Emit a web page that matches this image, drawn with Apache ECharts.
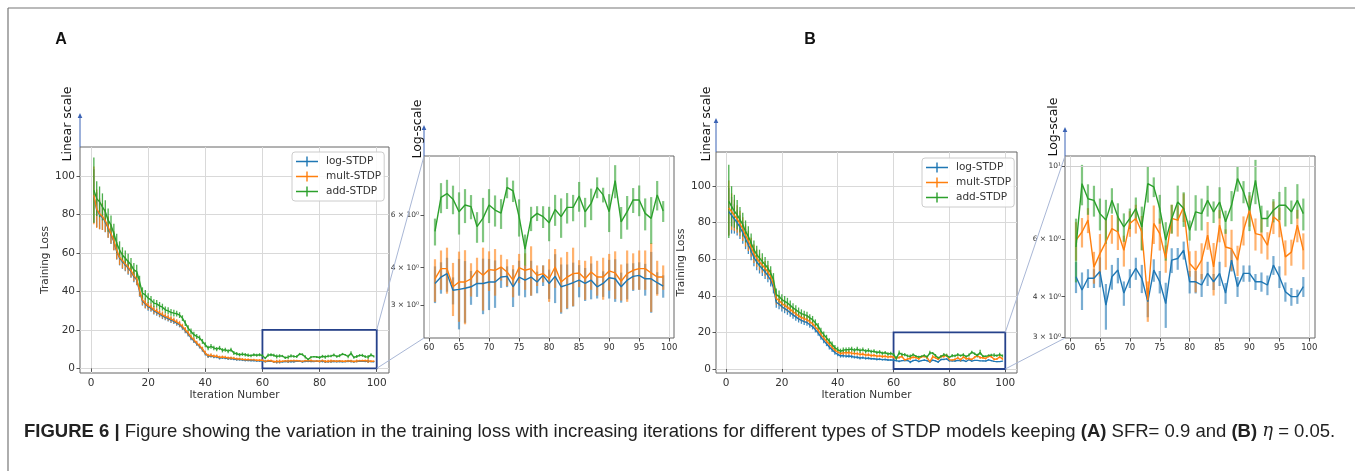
<!DOCTYPE html>
<html><head><meta charset="utf-8">
<script src="https://cdn.jsdelivr.net/npm/echarts@6/dist/echarts.min.js"></script>
<style>html,body{margin:0;padding:0;background:#fff}#c{width:1355px;height:471px}</style>
</head><body><div id="c"></div><script>
// ---------------- DATA ----------------
const iterations = [1,2,3,4,5,6,7,8,9,10,11,12,13,14,15,16,17,18,19,20,21,22,23,24,25,26,27,28,29,30,31,32,33,34,35,36,37,38,39,40,41,42,43,44,45,46,47,48,49,50,51,52,53,54,55,56,57,58,59,60,61,62,63,64,65,66,67,68,69,70,71,72,73,74,75,76,77,78,79,80,81,82,83,84,85,86,87,88,89,90,91,92,93,94,95,96,97,98,99];
const seriesNames = ['log-STDP','mult-STDP','add-STDP'];

// Panel A (SFR = 0.9)
const aLog = [89.5,82.4,79.8,78.4,76.2,72.8,69.4,65.9,60.7,57.3,55.5,53.8,52.1,50.3,47.7,46.0,40.0,35.0,33.4,32.0,31.3,29.9,29.1,28.2,27.3,26.5,25.9,25.1,24.4,23.5,22.7,21.3,19.6,17.9,15.8,14.4,12.8,11.4,9.8,7.7,6.3,6.5,6.0,6.0,5.4,5.6,5.4,5.1,5.1,4.9,4.6,4.6,4.4,4.2,4.2,4.1,4.1,3.9,3.9,3.9,
  3.54,3.72,3.82,3.36,3.38,3.41,3.45,3.54,3.54,3.58,3.58,3.72,3.74,3.45,3.72,3.63,3.72,3.58,3.77,3.54,3.74,3.45,3.5,3.56,3.63,3.54,3.63,3.45,3.54,3.7,3.67,3.45,3.63,3.74,3.77,3.67,3.67,3.56,3.47];
const aLogErr = [14,9,7.5,6.5,5.5,5,4.8,4.5,4.2,3.8,3.8,3.4,3.4,3.2,3,2.8,2.8,2.4,2.3,2,1.9,1.9,1.7,1.7,1.7,1.5,1.5,1.5,1.4,1.4,1.4,1.3,1.3,1.3,1.2,1.2,1.1,1.1,1.1,1.0,0.9,0.9,0.8,0.8,0.8,0.7,0.7,0.7,0.7,0.7,0.6,0.6,0.6,0.6,0.6,0.5,0.5,0.5,0.5,0.5,
  0.5,0.45,0.5,0.35,0.9,0.8,0.45,0.35,0.75,0.7,0.65,0.3,0.3,0.5,0.5,0.45,0.5,0.3,0.3,0.4,0.7,0.65,0.6,0.6,0.45,0.45,0.5,0.3,0.35,0.55,0.6,0.4,0.5,0.4,0.4,0.45,0.85,0.3,0.3];
const aMult = [89.9,82.9,80.3,78.9,76.8,73.4,69.9,66.4,61.2,57.8,56.0,54.3,52.6,50.8,48.2,46.5,40.5,35.5,33.9,32.5,31.8,30.4,29.6,28.7,27.8,27.0,26.4,25.6,24.9,24.0,23.2,21.8,20.1,18.4,16.3,14.9,13.2,11.8,10.1,8.0,6.6,6.8,6.3,6.3,5.7,5.9,5.7,5.4,5.4,5.2,4.9,4.9,4.7,4.5,4.5,4.4,4.4,4.2,4.2,4.2,
  3.67,3.97,3.97,3.45,3.58,3.58,3.67,3.92,3.77,3.94,3.92,4.02,3.87,3.63,4.0,3.92,3.97,3.77,3.82,3.67,4.02,3.58,3.72,3.82,3.84,3.67,3.87,3.72,3.72,3.9,3.84,3.6,3.82,3.92,3.97,3.97,3.84,3.72,3.72];
const aMultErr = [15,10,8,7,6,5.5,5,5,4.5,4,4,3.5,3.5,3.5,3,3,3,2.5,2.5,2,2,2,1.8,1.8,1.8,1.6,1.6,1.6,1.5,1.5,1.5,1.4,1.4,1.4,1.3,1.3,1.2,1.2,1.2,1.1,1.0,1.0,0.9,0.9,0.9,0.8,0.8,0.8,0.8,0.8,0.7,0.7,0.7,0.7,0.7,0.6,0.6,0.6,0.6,0.6,
  0.6,0.6,0.7,0.7,0.95,1.0,0.47,0.4,0.9,0.6,0.7,0.4,0.4,0.45,0.45,0.55,0.75,0.3,0.25,0.6,0.6,0.75,0.8,0.85,0.4,0.55,0.5,0.5,0.6,0.55,0.7,0.5,0.75,0.55,0.6,0.6,1.0,0.5,0.35];
const aAdd = [92.6,88.2,86.5,83.9,81.4,77.0,74.4,70.1,65.0,61.5,58.9,57.2,55.5,53.8,51.2,50.3,45.1,39.1,38.2,36.5,35.6,33.9,33.5,32.5,31.8,30.4,29.9,29.1,28.7,28.4,27.7,26.1,23.5,20.9,19.2,17.5,16.6,15.8,14.0,12.3,10.6,11.4,10.6,10.0,10.6,9.4,9.7,8.9,9.7,8.0,7.6,7.1,7.4,7.1,6.8,6.6,7.1,6.8,7.1,6.6,
  5.3,6.9,7.1,6.8,6.17,6.5,6.42,5.5,5.87,6.5,6.25,6.1,7.45,7.25,5.94,4.62,5.86,6.09,5.94,5.66,6.28,5.94,6.38,6.38,6.97,6.17,6.58,7.45,7.03,6.17,7.85,5.7,6.17,6.76,6.76,6.09,5.86,7.03,6.2];
const aAddErr = [17,9,8,7,6,6,5,5,5,4.5,4,4,4,3.5,3.5,3.5,3,3,2.5,2.5,2,2,2,2,1.8,1.8,1.8,1.8,1.8,1.5,1.5,1.5,1.5,1.5,1.5,1.5,1.3,1.3,1.3,1.3,1.2,1.2,1.2,1.1,1.1,1.1,1.0,1.0,1.0,1.0,0.9,0.9,0.9,0.9,0.9,0.8,0.8,0.8,0.8,0.8,
  0.55,0.8,0.8,0.75,1.0,0.85,0.6,0.65,1.0,0.85,0.75,0.7,0.6,0.6,0.85,0.55,0.55,0.35,0.5,0.75,0.75,0.9,0.75,0.65,0.8,0.7,0.8,0.6,0.4,0.9,1.0,0.7,0.8,0.65,0.8,0.75,1.05,0.8,0.5];

// Panel B (eta = 0.05)
const bLog = [86,84,82,80,77.5,74.5,71,68,64.5,61,58.5,56.5,54.8,53,51,48.5,44.5,36.5,35.5,34.0,33.0,32.0,30.8,29.6,28.5,27.4,26.6,25.9,25.4,24.2,23.2,21.5,19.7,17.4,15.5,13.8,12.0,10.5,9.0,8.0,7.2,7.3,7.0,7.1,6.8,6.5,6.4,6.0,6.2,5.8,5.9,5.6,5.6,5.3,5.4,5.1,5.2,4.9,5.0,4.8,
  4.6,4.19,4.55,4.55,4.77,3.77,4.6,4.82,4.1,4.55,4.88,4.55,3.86,4.82,4.44,3.81,5.17,5.23,5.54,4.44,4.44,4.34,4.71,4.44,4.71,4.1,5.17,4.29,4.71,4.71,4.44,4.44,4.34,4.99,4.6,4.14,4.0,4.0,4.29];
const bLogErr = [13,10,8,7,6.5,6,5.5,5.2,5,4.8,4.5,4.3,4,3.8,3.6,3.4,3.2,3,2.8,2.6,2.5,2.4,2.3,2.2,2.1,2,1.9,1.8,1.8,1.7,1.6,1.5,1.5,1.4,1.4,1.3,1.3,1.2,1.2,1.1,1.0,1.0,0.9,0.9,0.9,0.8,0.8,0.8,0.7,0.7,0.7,0.6,0.6,0.6,0.6,0.5,0.5,0.5,0.5,0.5,
  0.5,0.55,0.3,0.3,0.5,0.6,0.4,0.43,0.35,0.3,0.38,0.45,0.4,0.38,0.35,0.6,0.45,0.4,0.35,0.35,0.35,0.35,0.4,0.25,0.4,0.3,0.4,0.3,0.27,0.27,0.25,0.3,0.3,0.33,0.35,0.28,0.25,0.2,0.3];
const bMult = [88,86,84,82,79.5,76.5,73,70,66.5,63,60.5,58.5,56.8,55,53,50.5,46.5,38.5,37.5,35.8,34.8,33.8,32.6,31.3,30.2,29.0,28.2,27.5,27.0,25.8,24.8,23.0,21.2,18.8,16.9,15.2,13.5,11.9,10.3,9.3,8.5,8.8,8.9,9.0,8.7,8.5,8.4,8.0,8.2,7.6,7.8,7.3,7.5,7.0,7.2,6.8,7.0,6.5,6.8,6.4,
  5.95,6.3,6.85,4.93,5.41,5.88,6.45,6.3,5.54,6.69,6.93,6.3,3.9,6.69,6.23,5.23,6.93,6.85,7.51,5.05,4.82,5.17,6.16,4.93,6.61,5.67,5.6,5.17,6.38,7.34,6.23,6.16,5.74,7.01,6.77,5.29,5.47,6.61,5.54];
const bMultErr = [15,10,8.5,7.5,7,6.5,6,5.5,5.2,5,4.8,4.5,4.2,4,3.8,3.6,3.4,3.2,3,2.8,2.7,2.6,2.5,2.4,2.3,2.2,2.1,2,1.9,1.8,1.8,1.7,1.6,1.6,1.5,1.5,1.4,1.4,1.3,1.3,1.2,1.2,1.1,1.1,1.1,1.0,1.0,1.0,0.9,0.9,0.9,0.9,0.8,0.8,0.8,0.8,0.8,0.7,0.7,0.7,
  0.8,0.65,0.6,0.55,0.8,1.05,0.65,0.75,0.6,0.6,0.7,0.75,0.55,0.9,0.7,0.5,0.7,0.75,0.75,0.45,0.7,0.65,0.6,0.9,0.75,0.75,0.8,0.55,0.65,0.8,0.7,0.75,0.55,0.8,0.7,0.65,0.5,0.75,0.7];
const bAdd = [91.6,88.9,86.2,84.3,81.6,78.9,75.2,72.5,68.8,65.2,62.5,60.6,58.8,57.0,55.2,52.4,48.8,40.6,39.7,37.9,37.0,36.1,34.8,33.4,32.4,31.2,30.3,29.7,29.2,27.9,27.0,25.2,23.4,20.7,18.8,17.0,15.2,13.4,11.6,10.6,9.7,10.3,10.5,10.6,10.9,10.2,10.9,10.0,10.6,9.7,10.2,9.5,9.8,9.0,9.3,8.6,8.9,8.2,8.5,8.0,
  5.67,8.85,7.96,7.87,7.17,6.85,7.87,7.01,6.53,6.93,7.43,6.53,8.85,8.65,7.43,5.95,6.93,7.78,7.43,6.38,7.26,7.17,7.87,7.26,7.78,6.77,7.6,9.17,8.36,7.34,9.06,6.93,6.93,7.34,7.6,7.6,7.26,7.87,7.17];
const bAddErr = [20,11,9,8,7,6.5,6,5.5,5.3,5,4.8,4.6,4.4,4.2,4,3.8,3.6,3.4,3.2,3,2.9,2.8,2.7,2.6,2.5,2.4,2.3,2.2,2.1,2,2,1.9,1.8,1.8,1.7,1.7,1.6,1.6,1.5,1.5,1.4,1.4,1.3,1.3,1.3,1.2,1.2,1.2,1.1,1.1,1.1,1.0,1.0,1.0,1.0,0.9,0.9,0.9,0.9,0.9,
  1.25,1.25,0.85,0.85,0.8,1.05,0.7,0.7,0.65,0.5,0.6,1.0,1.1,0.6,0.75,0.8,0.7,0.95,0.9,0.45,0.9,0.8,0.85,0.55,0.85,0.55,0.8,0.8,0.65,1.0,1.4,0.65,0.4,0.6,0.75,1.05,0.6,0.95,0.8];

// ticks & ranges
const mainXTicks = [0,20,40,60,80,100];
const mainYTicks = [0,20,40,60,80,100];
const insetXTicks = [60,65,70,75,80,85,90,95,100];
const insetATicks = [3,4,6];
const insetBTicks = [3,4,6,10];
const insetMajor = [10];
const insetStart = 61;                 // first iteration shown in the zoomed insets
const zoomBox = {x0:60, x1:100, y0:0, y1:20};

// ---------------- STYLE / LAYOUT ----------------
const COL = {'log-STDP':'#1f77b4','mult-STDP':'#ff7f0e','add-STDP':'#2ca02c'};
const FONT = 'DejaVu Sans';
const G = [
  {left:80,  top:147, width:309, height:226},   // A main
  {left:424, top:156, width:250, height:182},   // A inset
  {left:716, top:152, width:301, height:221},   // B main
  {left:1065,top:156, width:250, height:182}    // B inset
];
const RANGES = [
  {x:[-3.85,104.3], y:[-2.4,115]},
  {x:[59.17,100.8], y:[2.32,9.5]},
  {x:[-3.58,104.2], y:[-2.19,118.6]},
  {x:[59.16,100.95], y:[2.99,10.75]}
];

const chart = echarts.init(document.getElementById('c'), null, {renderer:'canvas'});

function rows(vals, errs, from) {
  const out = [];
  iterations.forEach((it, i) => { if (it >= from) out.push([it, vals[i], errs[i]]); });
  return out;
}
function errSeries(name, g, data, width, opacity) {
  const color = COL[name];
  return {
    type:'custom', name, xAxisIndex:g, yAxisIndex:g, silent:true, color, clip:true,
    itemStyle:{color}, data, z:2,
    renderItem(params, api) {
      const x = api.value(0), y = api.value(1), e = api.value(2);
      const a = api.coord([x, y - e]), b = api.coord([x, y + e]);
      return {type:'line', shape:{x1:a[0], y1:a[1], x2:b[0], y2:b[1]},
              style:{stroke:color, lineWidth:width, opacity}};
    }
  };
}
function lineSeries(name, g, data, width) {
  const color = COL[name];
  return {type:'line', name, xAxisIndex:g, yAxisIndex:g, color, data: data.map(r => [r[0], r[1]]),
    showSymbol:false, symbol:'none', silent:true, clip:true, z:2,
    lineStyle:{color, width}, itemStyle:{color}};
}

const panels = [
  {g:0, from:1, sets:[[aLog,aLogErr],[aMult,aMultErr],[aAdd,aAddErr]], main:true},
  {g:1, from:insetStart, sets:[[aLog,aLogErr],[aMult,aMultErr],[aAdd,aAddErr]], main:false},
  {g:2, from:1, sets:[[bLog,bLogErr],[bMult,bMultErr],[bAdd,bAddErr]], main:true},
  {g:3, from:insetStart, sets:[[bLog,bLogErr],[bMult,bMultErr],[bAdd,bAddErr]], main:false}
];
const series = [];
panels.forEach(p => {
  p.sets.forEach((s, k) => {
    const name = seriesNames[k];
    const data = rows(s[0], s[1], p.from);
    series.push(errSeries(name, p.g, data, p.main ? 1.3 : 2.2, p.main ? 0.85 : 0.6));
    series.push(lineSeries(name, p.g, data, 1.4));
  });
});
// zoom rectangles on main panels
[0,2].forEach(g => {
  series.push({type:'line', xAxisIndex:g, yAxisIndex:g, data:[], silent:true, z:3,
    markArea:{silent:true, itemStyle:{color:'rgba(0,0,0,0)', borderColor:'#26428b', borderWidth:1.8},
      data:[[{coord:[zoomBox.x0, zoomBox.y0]},{coord:[zoomBox.x1, zoomBox.y1]}]]}});
});
// major grid line of the log inset B
series.push({type:'line', xAxisIndex:3, yAxisIndex:3, data:[], silent:true, z:1,
  markLine:{silent:true, symbol:'none', label:{show:false},
    lineStyle:{color:'#cfcfcf', width:1, type:'solid'}, data: insetMajor.map(v => ({yAxis:v}))}});

const tickStyle = {show:true, length:3.5, lineStyle:{color:'#444', width:0.9}};
const gridLine = {show:true, lineStyle:{color:'#d9d9d9', width:1}};
function xAxis(g, ticks, fs, name, splitNumber) {
  return {type:'value', gridIndex:g, min:RANGES[g].x[0], max:RANGES[g].x[1], splitNumber,
    axisLine:{show:false}, axisTick:Object.assign({customValues:ticks}, tickStyle),
    axisLabel:{customValues:ticks, fontSize:fs, color:'#333', margin:5, fontFamily:FONT},
    splitLine:gridLine, name, nameLocation:'middle', nameGap:16,
    nameTextStyle:{fontSize:10.5, color:'#333', fontFamily:FONT}};
}
function yAxisLin(g, name, gap) {
  return {type:'value', gridIndex:g, min:RANGES[g].y[0], max:RANGES[g].y[1],
    axisLine:{show:false, onZero:false}, axisTick:Object.assign({customValues:mainYTicks}, tickStyle),
    axisLabel:{customValues:mainYTicks, fontSize:10.5, color:'#333', margin:5, fontFamily:FONT},
    splitLine:gridLine, name, nameLocation:'middle', nameGap:gap,
    nameTextStyle:{fontSize:10.5, color:'#333', fontFamily:FONT}};
}
function yAxisLog(g, ticks, margin) {
  return {type:'log', logBase:10, gridIndex:g, min:RANGES[g].y[0], max:RANGES[g].y[1],
    axisLine:{show:false, onZero:false}, axisTick:Object.assign({customValues:ticks}, tickStyle),
    axisLabel:{customValues:ticks, fontSize:7.5, color:'#333', margin, fontFamily:FONT,
      formatter: v => (Math.abs(v - 10) < 1e-9 ? '10¹' : v + ' × 10⁰')},
    splitLine:{show:false}, minorSplitLine:{show:false}};
}

const errIcon = 'path://M0,4.3h22v1.4h-22z M10.3,0h1.4v10h-1.4z';
function legend(left, top) {
  return {left, top, orient:'vertical', itemWidth:22, itemHeight:10, itemGap:4,
    padding:[4,3,4,4], borderColor:'#cccccc', borderWidth:1, borderRadius:3,
    backgroundColor:'rgba(255,255,255,0.85)', selectedMode:false,
    textStyle:{fontSize:10.5, color:'#333', fontFamily:FONT, padding:[0,0,0,3]},
    data: seriesNames.map(n => ({name:n, icon:errIcon, itemStyle:{color:COL[n]}}))};
}

function arrowAndLabel(g, len, text, tx, ty, key) {
  const x = G[g].left, y0 = G[g].top, y1 = y0 - len;
  return [
    {type:'line', id:key+'l', shape:{x1:x, y1:y0, x2:x, y2:y1+3}, style:{stroke:'#3b63b5', lineWidth:1}, silent:true},
    {type:'polygon', id:key+'h', shape:{points:[[x-2.3,y1+4],[x+2.3,y1+4],[x,y1-1]]}, style:{fill:'#3b63b5'}, silent:true},
    {type:'text', id:key+'t', x:tx, y:ty, rotation:Math.PI/2,
      style:{text, font:'12.5px "DejaVu Sans"', fill:'#111', align:'center', verticalAlign:'middle'}, silent:true}
  ];
}

const graphics = [].concat(
  [{type:'line', id:'frameT', shape:{x1:8,y1:8,x2:1355,y2:8}, style:{stroke:'#777', lineWidth:1.2}, silent:true},
   {type:'line', id:'frameL', shape:{x1:8,y1:8,x2:8,y2:471}, style:{stroke:'#777', lineWidth:1.2}, silent:true},
   {type:'text', id:'labA', x:61, y:40, style:{text:'A', font:'bold 16px "Liberation Sans"', fill:'#111', align:'center', verticalAlign:'middle'}, silent:true},
   {type:'text', id:'labB', x:810, y:40, style:{text:'B', font:'bold 16px "Liberation Sans"', fill:'#111', align:'center', verticalAlign:'middle'}, silent:true}],
  arrowAndLabel(0, 33, 'Linear scale', 68, 124, 'a0'),
  arrowAndLabel(1, 30, 'Log-scale', 418, 129, 'a1'),
  arrowAndLabel(2, 33, 'Linear scale', 707, 124, 'a2'),
  arrowAndLabel(3, 28, 'Log-scale', 1054, 127, 'a3')
);

chart.setOption({
  animation:false,
  backgroundColor:'#ffffff',
  textStyle:{fontFamily:FONT},
  title:{left:19, top:417,
    text:'{b|FIGURE 6 |} Figure showing the variation in the training loss with increasing iterations for different types of STDP models keeping {b|(A)} SFR= 0.9 and {b|(B)} {i|η} = 0.05.',
    textStyle:{fontFamily:'Liberation Sans', fontSize:18.5, fontWeight:'normal', color:'#222',
      rich:{b:{fontFamily:'Liberation Sans', fontSize:18.5, fontWeight:'bold', color:'#222'},
            i:{fontFamily:'DejaVu Serif', fontSize:18, fontStyle:'italic', color:'#222'}}}},
  grid: G.map(g => Object.assign({show:true, borderColor:'#666', borderWidth:1, backgroundColor:'rgba(0,0,0,0)', containLabel:false}, g)),
  xAxis:[xAxis(0, mainXTicks, 10.5, 'Iteration Number', 5), xAxis(1, insetXTicks, 8.5, '', 8),
         xAxis(2, mainXTicks, 10.5, 'Iteration Number', 5), xAxis(3, insetXTicks, 8.5, '', 8)],
  yAxis:[yAxisLin(0, 'Training Loss', 27), yAxisLog(1, insetATicks, 5),
         yAxisLin(2, 'Training Loss', 26), yAxisLog(3, insetBTicks, 4)],
  legend:[legend(292, 152), legend(922, 158)],
  series,
  graphic: graphics
});

// connector lines between zoom rectangles and insets
function connectors(mainG, insetG, key) {
  const tr = chart.convertToPixel({xAxisIndex:mainG, yAxisIndex:mainG}, [zoomBox.x1, zoomBox.y1]);
  const br = chart.convertToPixel({xAxisIndex:mainG, yAxisIndex:mainG}, [zoomBox.x1, zoomBox.y0]);
  const ig = G[insetG];
  return [
    {type:'line', id:key+'1', shape:{x1:tr[0], y1:tr[1], x2:ig.left, y2:ig.top}, style:{stroke:'#a9b7d6', lineWidth:1}, silent:true, z:5},
    {type:'line', id:key+'2', shape:{x1:br[0], y1:br[1], x2:ig.left, y2:ig.top+ig.height}, style:{stroke:'#a9b7d6', lineWidth:1}, silent:true, z:5}
  ];
}
chart.setOption({graphic: connectors(0,1,'cA').concat(connectors(2,3,'cB'))});
</script></body></html>
